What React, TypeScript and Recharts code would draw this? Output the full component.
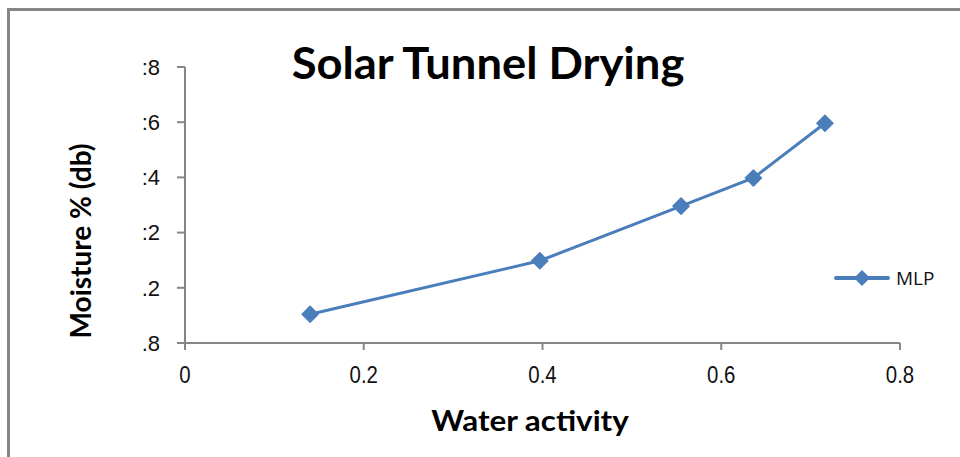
import { LineChart, Line, XAxis, YAxis } from "recharts";

// water activity (x) and moisture (y, in tick-step units of the cropped axis)
const waterActivity = [0.14, 0.397, 0.555, 0.636, 0.716];
const moisture = [0.52, 1.49, 2.48, 2.99, 3.98];
const xTicks = [0, 0.2, 0.4, 0.6, 0.8];
const yTicks = [0, 1, 2, 3, 4, 5];
// tick labels are clipped in the source image
const yTickLabels = [".8", ".2", ":2", ":4", ":6", ":8"];
const seriesName = "MLP";

const data = waterActivity.map((x, i) => ({ x, y: moisture[i] }));

const BLUE = "#4a7ebb";
const AXIS = "#868686";

function Diamond(props: any) {
  const { cx, cy } = props;
  if (cx == null || cy == null) return null;
  const r = 8;
  return (
    <path
      d={`M${cx},${cy - r}L${cx + r},${cy}L${cx},${cy + r}L${cx - r},${cy}Z`}
      fill={BLUE}
      stroke={BLUE}
      strokeWidth={1.5}
      strokeLinejoin="round"
    />
  );
}

// narrow tick text, like the condensed labels of the source
function XTick(props: any) {
  const { x, y, payload } = props;
  return (
    <text
      x={0}
      y={0}
      transform={`translate(${x},${y}) scale(0.85,1)`}
      textAnchor="middle"
      dominantBaseline="hanging"
      fill="#111"
      fontSize={24}
      fontFamily="'Liberation Sans', sans-serif"
    >
      {payload.value}
    </text>
  );
}

export default function App() {
  return (
    <div
      style={{
        position: "absolute",
        left: 0,
        top: 0,
        width: 960,
        height: 457,
        background: "#fff",
        overflow: "hidden",
        fontFamily: "Lato, sans-serif",
      }}
    >
      <div
        style={{
          position: "absolute",
          left: 7,
          top: 8,
          width: 960,
          height: 460,
          borderTop: `3px solid ${AXIS}`,
          borderLeft: `3px solid ${AXIS}`,
        }}
      />
      <LineChart
        width={960}
        height={457}
        data={data}
        margin={{ top: 67, right: 60, bottom: 84, left: 0 }}
      >
        <XAxis
          dataKey="x"
          type="number"
          domain={[0, 0.8]}
          ticks={xTicks}
          height={30}
          stroke={AXIS}
          strokeWidth={2}
          tickSize={7}
          tickMargin={16}
          tick={<XTick />}
        />
        <YAxis
          dataKey="y"
          type="number"
          domain={[0, 5]}
          ticks={yTicks}
          width={185}
          stroke={AXIS}
          strokeWidth={2}
          tickSize={8}
          tickMargin={17}
          tickFormatter={(v: number) => yTickLabels[v]}
          tick={{ fill: "#111", fontSize: 22, fontFamily: "'Liberation Sans', sans-serif" }}
        />
        <Line
          type="linear"
          dataKey="y"
          stroke={BLUE}
          strokeWidth={3}
          dot={<Diamond />}
          isAnimationActive={false}
        />
      </LineChart>
      <div
        style={{
          position: "absolute",
          left: 488,
          top: 62,
          transform: "translate(-50%, -50%) scaleX(1.03)",
          whiteSpace: "nowrap",
          lineHeight: 1,
          fontSize: 44,
          fontWeight: 700,
          color: "#000",
        }}
      >
        Solar Tunnel Drying
      </div>
      <div
        style={{
          position: "absolute",
          left: 530,
          top: 420,
          transform: "translate(-50%, -50%) scaleX(1.12)",
          whiteSpace: "nowrap",
          lineHeight: 1,
          fontSize: 28,
          fontWeight: 700,
          color: "#000",
        }}
      >
        Water activity
      </div>
      <div
        style={{
          position: "absolute",
          left: 80,
          top: 241,
          transform: "translate(-50%, -50%) rotate(-90deg)",
          whiteSpace: "nowrap",
          lineHeight: 1,
          fontSize: 28,
          fontWeight: 700,
          color: "#000",
        }}
      >
        Moisture % (db)
      </div>
      <div
        style={{
          position: "absolute",
          left: 834,
          top: 265,
          display: "flex",
          alignItems: "center",
          gap: 6,
        }}
      >
        <svg width={56} height={20}>
          <line x1={2} y1={10} x2={54} y2={10} stroke={BLUE} strokeWidth={4} strokeLinecap="round" />
          <path d="M28,2L36,10L28,18L20,10Z" fill={BLUE} />
        </svg>
        <span style={{ fontSize: 19, color: "#111", fontFamily: "'Open Sans', sans-serif" }}>
          {seriesName}
        </span>
      </div>
    </div>
  );
}
